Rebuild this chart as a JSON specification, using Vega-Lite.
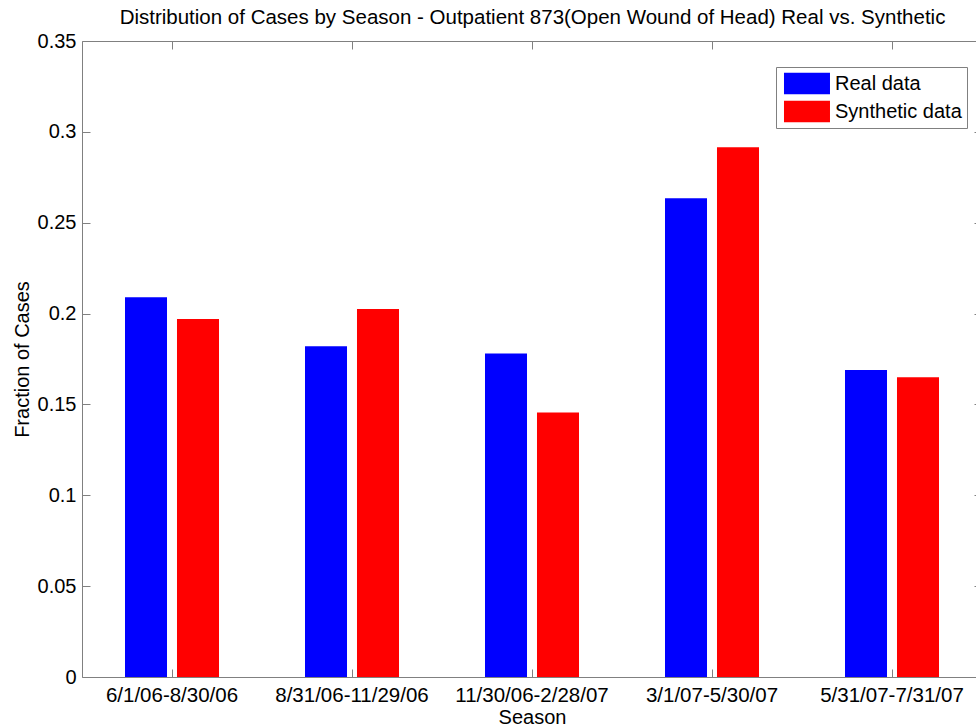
{
  "$schema": "https://vega.github.io/schema/vega-lite/v6.json",
  "width": 894,
  "height": 636,
  "autosize": {"type": "none"},
  "padding": {"left": 82, "top": 41, "right": 0, "bottom": 50},
  "background": "white",
  "data": {
    "values": [
      {"season": "6/1/06-8/30/06", "series": "Real data", "value": 0.209},
      {"season": "6/1/06-8/30/06", "series": "Synthetic data", "value": 0.197},
      {"season": "8/31/06-11/29/06", "series": "Real data", "value": 0.182},
      {"season": "8/31/06-11/29/06", "series": "Synthetic data", "value": 0.2025},
      {"season": "11/30/06-2/28/07", "series": "Real data", "value": 0.178},
      {"season": "11/30/06-2/28/07", "series": "Synthetic data", "value": 0.1455},
      {"season": "3/1/07-5/30/07", "series": "Real data", "value": 0.2635},
      {"season": "3/1/07-5/30/07", "series": "Synthetic data", "value": 0.2915},
      {"season": "5/31/07-7/31/07", "series": "Real data", "value": 0.169},
      {"season": "5/31/07-7/31/07", "series": "Synthetic data", "value": 0.165}
    ]
  },
  "config": {
    "view": {"stroke": null},
    "font": "Liberation Sans",
    "axis": {
      "grid": false,
      "domainColor": "#808080",
      "tickColor": "#808080",
      "tickSize": -8,
      "labelFont": "Liberation Sans",
      "labelFontSize": 20,
      "labelColor": "#000000",
      "titleFont": "Liberation Sans",
      "titleFontSize": 20,
      "titleFontWeight": "normal",
      "titleColor": "#000000"
    }
  },
  "layer": [
    {
      "mark": {"type": "bar"},
      "encoding": {
        "x": {
          "field": "season",
          "type": "nominal",
          "sort": ["6/1/06-8/30/06", "8/31/06-11/29/06", "11/30/06-2/28/07", "3/1/07-5/30/07", "5/31/07-7/31/07"],
          "scale": {"range": [0, 900], "paddingInner": 0, "paddingOuter": 0},
          "axis": {
            "orient": "bottom",
            "title": "Season",
            "labelAngle": 0,
            "labelFontSize": 20.5,
            "labelPadding": 16.5,
            "titlePadding": 1
          }
        },
        "xOffset": {
          "field": "series",
          "type": "nominal",
          "sort": ["Real data", "Synthetic data"],
          "scale": {"paddingInner": 0.192, "paddingOuter": 0.827}
        },
        "y": {
          "field": "value",
          "type": "quantitative",
          "scale": {"domain": [0, 0.35], "nice": false, "zero": true},
          "axis": {
            "orient": "left",
            "title": "Fraction of Cases",
            "values": [0, 0.05, 0.1, 0.15, 0.2, 0.25, 0.3, 0.35],
            "format": "~g",
            "labelPadding": 14,
            "titlePadding": 5
          }
        },
        "color": {
          "field": "series",
          "type": "nominal",
          "scale": {"domain": ["Real data", "Synthetic data"], "range": ["#0000ff", "#ff0000"]},
          "legend": {
            "orient": "none",
            "legendX": 694,
            "legendY": 26,
            "title": null,
            "symbolType": "M-0.74,-0.94H3.26V0.94H-0.74Z",
            "symbolSize": 529,
            "symbolStrokeWidth": 0,
            "symbolOpacity": 1,
            "labelFont": "Liberation Sans",
            "labelFontSize": 20,
            "labelColor": "#000000",
            "labelOffset": 31,
            "strokeColor": "#808080",
            "fillColor": "white",
            "padding": 5,
            "rowPadding": 5
          }
        }
      }
    },
    {
      "mark": {"type": "bar", "opacity": 0},
      "encoding": {
        "x": {
          "field": "season",
          "type": "nominal",
          "sort": ["6/1/06-8/30/06", "8/31/06-11/29/06", "11/30/06-2/28/07", "3/1/07-5/30/07", "5/31/07-7/31/07"],
          "axis": {
            "orient": "top",
            "labels": false,
            "domain": true,
            "minExtent": 0,
            "title": "Distribution of Cases by Season - Outpatient 873(Open Wound of Head) Real vs. Synthetic",
            "titleFontSize": 20.5,
            "titleBaseline": "alphabetic",
            "titlePadding": 17
          }
        },
        "y": {
          "field": "value",
          "type": "quantitative",
          "axis": {
            "orient": "right",
            "labels": false,
            "title": null,
            "domain": false,
            "offset": 6,
            "minExtent": 0,
            "values": [0, 0.05, 0.1, 0.15, 0.2, 0.25, 0.3, 0.35]
          }
        }
      }
    }
  ],
  "resolve": {"axis": {"x": "independent", "y": "independent"}}
}
